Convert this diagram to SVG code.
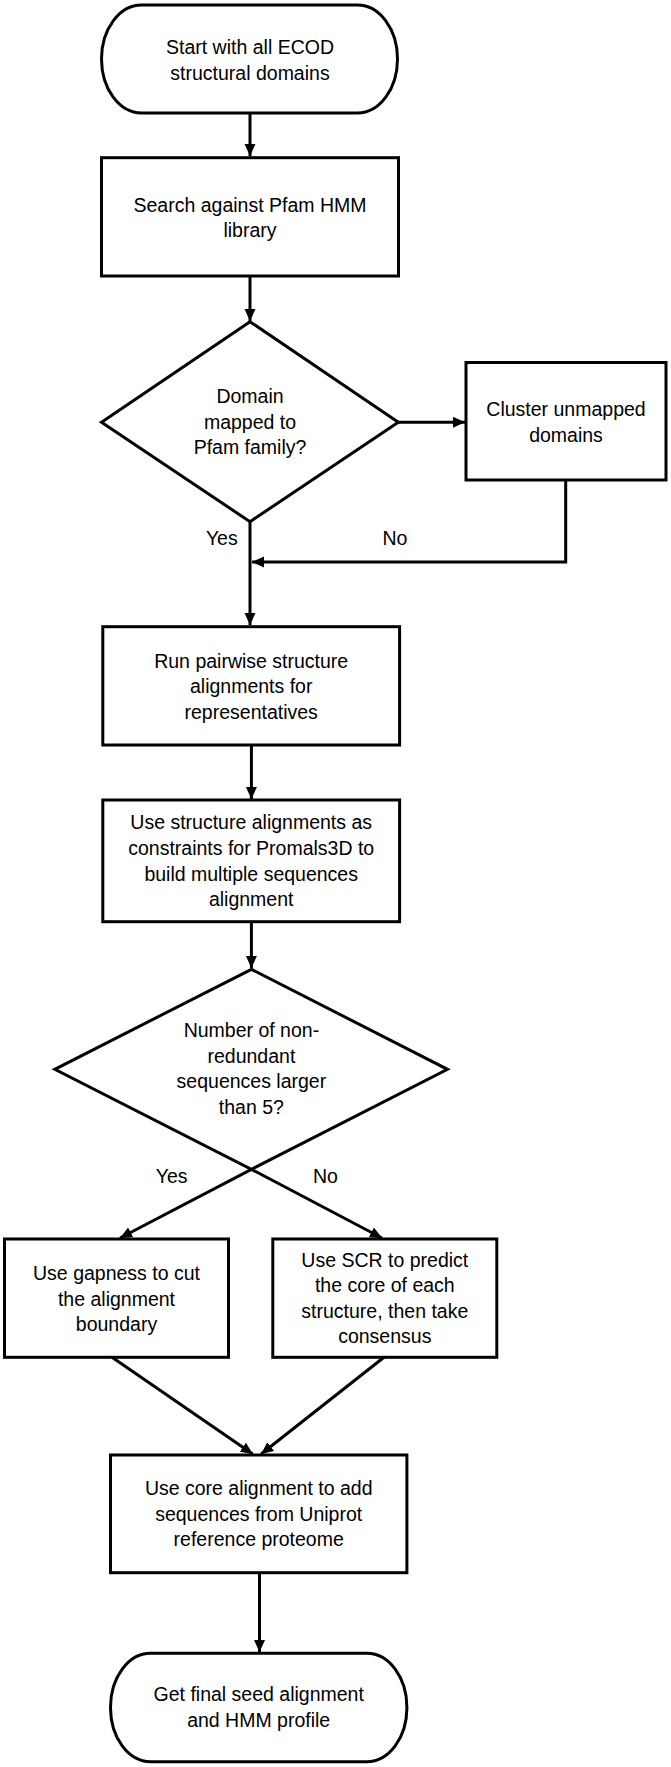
<svg xmlns="http://www.w3.org/2000/svg" width="671" height="1767" viewBox="0 0 671 1767">
<style>
.n{fill:#fff;stroke:#000;stroke-width:3}
.c{fill:none;stroke:#000;stroke-width:3}
text{font-family:"Liberation Sans",Arial,sans-serif;font-size:19.5px;fill:#000;text-anchor:middle}
</style>
<defs>
<marker id="ah" markerUnits="userSpaceOnUse" markerWidth="14" markerHeight="12" refX="12" refY="5.5" orient="auto">
<path d="M0,0 L12,5.5 L0,11 z" fill="#000"/>
</marker>
</defs>
<rect width="671" height="1767" fill="#fff"/>
<g id="connectors">
<line class="c" x1="250" y1="113" x2="250" y2="156" marker-end="url(#ah)"/>
<line class="c" x1="250" y1="276" x2="250" y2="321" marker-end="url(#ah)"/>
<line class="c" x1="398" y1="422.3" x2="465" y2="422.3" marker-end="url(#ah)"/>
<polyline class="c" points="565.7,480 565.7,562 252,562" marker-end="url(#ah)"/>
<line class="c" x1="250" y1="521.7" x2="250" y2="625" marker-end="url(#ah)"/>
<line class="c" x1="251.4" y1="745" x2="251.4" y2="799" marker-end="url(#ah)"/>
<line class="c" x1="251.4" y1="921.7" x2="251.4" y2="968" marker-end="url(#ah)"/>
<line class="c" x1="251.4" y1="1169.3" x2="120" y2="1238" marker-end="url(#ah)"/>
<line class="c" x1="251.4" y1="1169.3" x2="382" y2="1238" marker-end="url(#ah)"/>
<line class="c" x1="112" y1="1357.3" x2="252.7" y2="1454" marker-end="url(#ah)"/>
<line class="c" x1="384" y1="1357.3" x2="261.2" y2="1454" marker-end="url(#ah)"/>
<line class="c" x1="259.5" y1="1572.7" x2="259.5" y2="1652" marker-end="url(#ah)"/>
<text x="221.8" y="545">Yes</text>
<text x="395" y="545">No</text>
<text x="171.7" y="1183">Yes</text>
<text x="325.5" y="1183">No</text>
</g>
<g id="start">
<rect class="n" x="101.5" y="5" width="296" height="108" rx="40" ry="54"/>
<text x="250" y="54">Start with all ECOD</text>
<text x="250" y="79.5">structural domains</text>
</g>
<g id="search">
<rect class="n" x="101.5" y="157.7" width="297" height="118.3"/>
<text x="250" y="211.5">Search against Pfam HMM</text>
<text x="250" y="237">library</text>
</g>
<g id="decision1">
<polygon class="n" points="250,321.7 101.5,422.3 250,521.7 398.3,422.3"/>
<text x="250" y="403">Domain</text>
<text x="250" y="428.5">mapped to</text>
<text x="250" y="454">Pfam family?</text>
</g>
<g id="cluster">
<rect class="n" x="466" y="362.5" width="200" height="117.5"/>
<text x="566" y="416">Cluster unmapped</text>
<text x="566" y="441.5">domains</text>
</g>
<g id="pairwise">
<rect class="n" x="102.8" y="626.7" width="296.8" height="118.3"/>
<text x="251.2" y="667.5">Run pairwise structure</text>
<text x="251.2" y="693">alignments for</text>
<text x="251.2" y="718.5">representatives</text>
</g>
<g id="promals">
<rect class="n" x="102.8" y="800" width="296.8" height="121.7"/>
<text x="251.2" y="829.3">Use structure alignments as</text>
<text x="251.2" y="855">constraints for Promals3D to</text>
<text x="251.2" y="880.5">build multiple sequences</text>
<text x="251.2" y="906">alignment</text>
</g>
<g id="decision2">
<polygon class="n" points="251.4,969.3 54.8,1069.3 251.4,1169.3 447.5,1069.3"/>
<text x="251.4" y="1037">Number of non-</text>
<text x="251.4" y="1062.5">redundant</text>
<text x="251.4" y="1088">sequences larger</text>
<text x="251.4" y="1113.5">than 5?</text>
</g>
<g id="gapness">
<rect class="n" x="4.5" y="1239" width="224" height="118.3"/>
<text x="116.5" y="1280">Use gapness to cut</text>
<text x="116.5" y="1305.5">the alignment</text>
<text x="116.5" y="1331">boundary</text>
</g>
<g id="scr">
<rect class="n" x="272.8" y="1239" width="224" height="118.3"/>
<text x="384.8" y="1266.7">Use SCR to predict</text>
<text x="384.8" y="1292.2">the core of each</text>
<text x="384.8" y="1317.7">structure, then take</text>
<text x="384.8" y="1343.2">consensus</text>
</g>
<g id="core">
<rect class="n" x="110.5" y="1455" width="296.4" height="117.7"/>
<text x="258.7" y="1495">Use core alignment to add</text>
<text x="258.7" y="1520.5">sequences from Uniprot</text>
<text x="258.7" y="1546">reference proteome</text>
</g>
<g id="end">
<rect class="n" x="110.5" y="1653.3" width="296.4" height="108.4" rx="40" ry="54"/>
<text x="258.7" y="1701">Get final seed alignment</text>
<text x="258.7" y="1726.5">and HMM profile</text>
</g>
</svg>
